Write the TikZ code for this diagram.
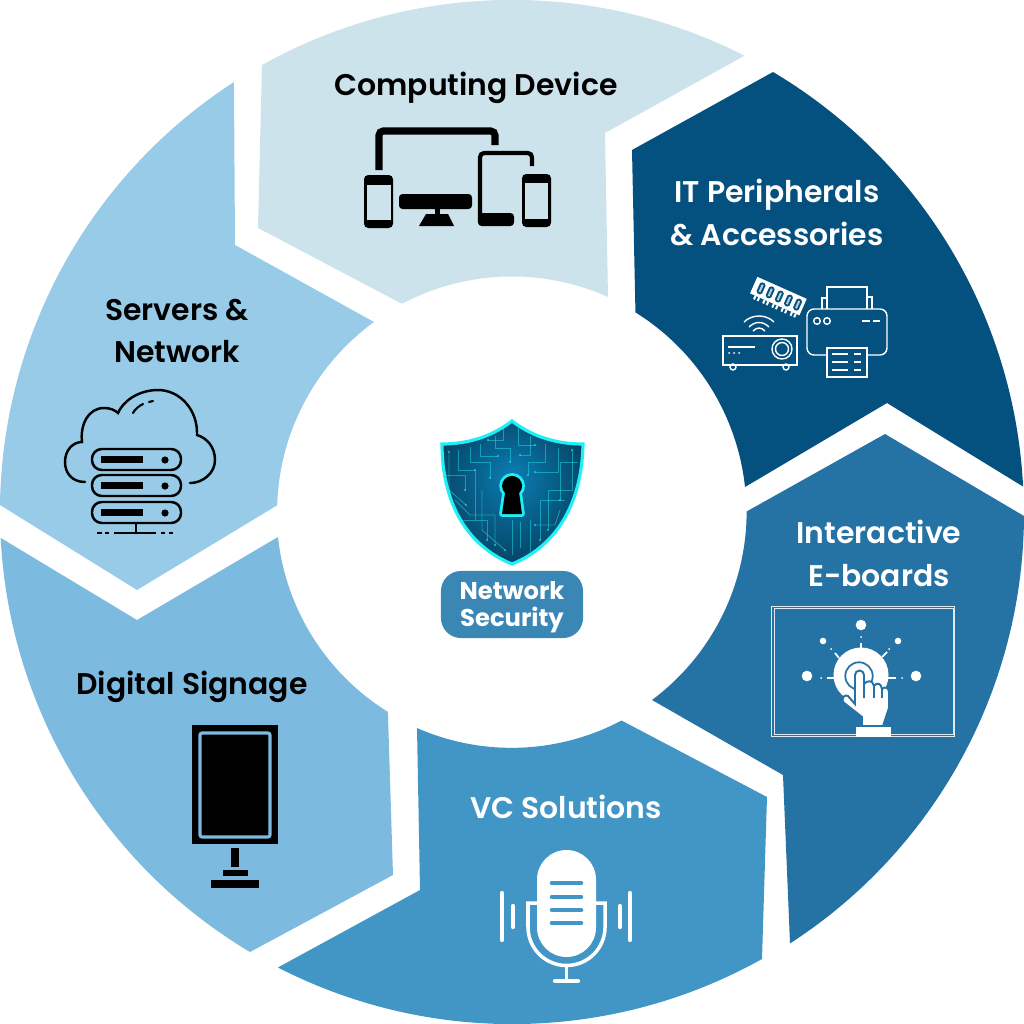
\documentclass[tikz,border=0pt]{standalone}
\usepackage{fontspec}
\usepackage{tikz}
\usetikzlibrary{positioning}
\newfontfamily\lblfont{Poppins SemiBold}
\newfontfamily\badgefont{Poppins Bold}
\definecolor{deviceblue}{HTML}{CDE3EC}
\definecolor{periphblue}{HTML}{04517F}
\definecolor{eboardblue}{HTML}{2572A4}
\definecolor{vcblue}{HTML}{4296C6}
\definecolor{signageblue}{HTML}{7DBAE0}
\definecolor{serverblue}{HTML}{97CBE8}
\definecolor{pillblue}{HTML}{3A86B5}
\definecolor{glowcyan}{HTML}{1FF0F5}
\definecolor{shieldmid}{HTML}{0A7FB5}
\definecolor{shieldedge}{HTML}{04233A}
\pgfdeclareradialshading{shieldglow}{\pgfpoint{0bp}{6bp}}{
  color(0bp)=(shieldmid); color(12bp)=(shieldmid!70!shieldedge); color(28bp)=(shieldedge!65!shieldmid); color(50bp)=(shieldedge)}
\tikzset{
  seglabel/.style={font=\lblfont\fontsize{8.5}{12.2}\selectfont,align=center,inner sep=0pt},
  thinline/.style={line width=0.4pt,white},
  trace/.style={line width=0.25pt,glowcyan,opacity=0.45},
}
\begin{document}
\begin{tikzpicture}[x=0.01cm,y=-0.01cm]
    \useasboundingbox (0,0) rectangle (1024,1024);

    % ring segments
    \fill[deviceblue](262,65) arc[start angle=119.2,end angle=63,radius=5.12cm] -- (605,133) -- (608,297) arc[start angle=65.9,end angle=117.9,radius=2.35cm] -- (258,228) -- cycle;
    \fill[periphblue](773,72) arc[start angle=59.3,end angle=2.9,radius=5.12cm] -- (887,403) -- (745,487) arc[start angle=6.1,end angle=58.1,radius=2.35cm] -- (632,150) -- cycle;
    \fill[eboardblue](1024,516) arc[start angle=-0.3,end angle=-57.1,radius=5.12cm] -- (783,775) -- (652,700) arc[start angle=-53.3,end angle=0,radius=2.35cm] -- (885,434) -- cycle;
    \fill[vcblue](762,959) arc[start angle=-60.8,end angle=-117.2,radius=5.12cm] -- (420,890) -- (417,728) arc[start angle=-113.7,end angle=-62.1,radius=2.35cm] -- (767,797) -- cycle;
    \fill[signageblue](250,952) arc[start angle=239.2,end angle=182.9,radius=5.12cm] -- (137,620) -- (278,537) arc[start angle=186.1,end angle=238.2,radius=2.35cm] -- (393,875) -- cycle;
    \fill[serverblue](0,505) arc[start angle=179.2,end angle=122.9,radius=5.12cm] -- (235,245) -- (374,322) arc[start angle=126,end angle=178.3,radius=2.35cm] -- (137,590) -- cycle;

    % labels
    \node[seglabel] (devicelabel) at (476,88) {Computing Device};
    \node[seglabel,white] (periphlabel) at (777,212.5) {IT Peripherals\\\& Accessories};
    \node[seglabel,white] (eboardlabel) at (879,553.5) {Interactive\\E-boards};
    \node[seglabel,white] (vclabel) at (566,807) {VC Solutions};
    \node[seglabel] (signagelabel) at (192,687) {Digital Signage};
    \node[seglabel] (serverlabel) at (177,331) {Servers \&\\Network};

    % computing device icon
    \draw[line width=2pt,rounded corners=1.2pt](379,170)--(379,131)--(495,131)--(495,145);
    \draw[line width=1.2pt,rounded corners=1.2pt](532,166)--(532,153)--(480,153)--(480,222);
    \fill[rounded corners=1pt](478,213) rectangle (514,226);
    \fill[rounded corners=1pt](399,194) rectangle (472,209);
    \fill(435,209) rectangle (440,215);
    \fill(426,214)--(448,214)--(454,226)--(419,226)--cycle;
    \fill[rounded corners=1.2pt](364,175) rectangle (393,228);
    \fill[deviceblue](367,185) rectangle (391,220);
    \fill[rounded corners=1.2pt](522,174) rectangle (551,227);
    \fill[deviceblue](525,183) rectangle (548,219);

    % printer
    \draw[thinline](827,309)--(827,287)--(867,287)--(867,309);
    \draw[thinline](827,298)--(822,298)--(822,309);
    \draw[thinline](867,297)--(872,297)--(872,309);
    \draw[thinline,fill=periphblue,rounded corners=2pt](807,309) rectangle (887,355);
    \draw[thinline,fill=periphblue](827,348) rectangle (867,377);
    \foreach \y in {354,362,370}{
        \draw[thinline](832,\y)--(848,\y);
        \draw[thinline](854,\y)--(861,\y);
    }
    \draw[thinline](817,321) circle[radius=0.033cm];
    \draw[thinline](827,321) circle[radius=0.033cm];
    \draw[thinline](862,321)--(870,321);
    \draw[thinline](873,321)--(880,321);
    % projector
    \draw[thinline](723,336) rectangle (797,365);
    \draw[thinline](782,349) circle[radius=0.1cm];
    \draw[thinline](782,349) circle[radius=0.065cm];
    \draw[thinline](728,347)--(755,347);
    \foreach \x in {729,734,739}{
        \fill[white](\x,353) circle[radius=0.01cm];
    }
    \draw[thinline](733,367) circle[radius=0.03cm];
    \draw[thinline](786,367) circle[radius=0.03cm];
    \draw[thinline](744,322) .. controls (752,314) and (766,314) .. (774,322);
    \draw[thinline](749,327) .. controls (755,321) and (763,321) .. (769,327);
    \draw[thinline](753,331) .. controls (757,327) and (761,327) .. (765,331);
    % memory stick
    \begin{scope}[shift={(778,297)},rotate=-24]
        \fill[white](-27,-10) rectangle (27,8);
        \foreach \x in {-19,-9,1,11,21}{
            \fill[periphblue,rounded corners=0.5pt](\x-3,-7) rectangle (\x+3,5);
            \fill[white!70!periphblue](\x-1,-5) rectangle (\x+1,3);
            \fill[white](\x-3,8) rectangle (\x-1,12);
            \fill[white](\x+1,8) rectangle (\x+3,12);
        }
    \end{scope}

    % cloud and servers
    \draw[line width=0.7pt,line cap=round](85,482) .. controls (72,482) and (65,473) .. (65,462) .. controls (65,450) and (73,442) .. (82,442)
        .. controls (80,425) and (88,408) .. (104,408) .. controls (110,408) and (115,410) .. (118,413)
        .. controls (125,398) and (142,390) .. (158,390) .. controls (180,390) and (198,410) .. (197,435)
        .. controls (207,438) and (215,447) .. (215,460) .. controls (215,473) and (203,483) .. (190,483);
    \draw[line width=0.6pt,line cap=round](133,413) .. controls (135,409) and (139,406) .. (143,404);
    \draw[line width=0.6pt,line cap=round](149,402)--(153,401);
    \foreach \y in {449,475,502}{
        \draw[line width=0.7pt,rounded corners=2.8pt](92,\y) rectangle (181,\y+21);
        \fill(101,\y+7) rectangle (143,\y+14);
        \fill(165,\y+11) circle[radius=0.036cm];
    }
    \draw[line width=0.6pt](136,523)--(136,533);
    \draw[line width=0.6pt](114,533)--(156,533);
    \draw[line width=0.6pt](97,533)--(102,533);
    \draw[line width=0.6pt](105,533)--(109,533);
    \draw[line width=0.6pt](161,533)--(165,533);
    \draw[line width=0.6pt](169,533)--(173,533);

    % signage icon
    \fill(192,725) rectangle (278,844);
    \draw[line width=0.9pt,signageblue,rounded corners=0.6pt](200,733) rectangle (270,837);
    \fill(231,848) rectangle (239,867);
    \fill(223,870) rectangle (248,876);
    \fill(211,880) rectangle (259,888);

    % microphone
    \fill[white,rounded corners=0.295cm](537,850) rectangle (596,957);
    \foreach \y in {883,897,910,923}{
        \draw[line width=1.3pt,vcblue,line cap=round](552,\y)--(581,\y);
    }
    \draw[line width=1pt,white](537,903)-|(528,927) arc[start angle=180,end angle=360,radius=0.385cm] |-(596,903);
    \draw[line width=1pt,white](566.5,965)--(566.5,980);
    \draw[line width=1.2pt,white,line cap=round](555,981)--(578,981);
    \foreach \x/\a/\b in {502/893/940,513/906/927,620/906/927,630/893/940}{
        \draw[line width=1.2pt,white,line cap=round](\x,\a)--(\x,\b);
    }

    % e-board icon
    \draw[line width=0.25pt,white!85!eboardblue](771,606) rectangle (954,736);
    \draw[line width=0.25pt,white!85!eboardblue](774,608) rectangle (953,734);
    \fill[white](861,675) circle[radius=0.275cm];
    \draw[line width=0.5pt,eboardblue](859,676) circle[radius=0.137cm];
    \foreach \x/\y/\r in {861/625/0.053,807/676/0.053,916/676/0.053,823/641/0.033,898/641/0.033,861/637/0.01,821/678/0.01,902/678/0.01,831/649/0.01,889/649/0.01}{
        \fill[white](\x,\y) circle[radius=\r cm];
    }
    \draw[line width=0.5pt,white](861,643)--(861,648);
    \draw[line width=0.5pt,white](827,678)--(834,678);
    \draw[line width=0.5pt,white](888,678)--(896,678);
    \draw[line width=0.5pt,white](835,653)--(839,658);
    \draw[line width=0.5pt,white](887,652)--(882,657);
    \draw[line width=0.55pt,eboardblue,fill=white](855,704)--(855,675) arc[start angle=180,end angle=0,radius=0.045cm]--(864,684) .. controls (867,680) and (873,680) .. (874,686) .. controls (877,682) and (881,683) .. (882,689) .. controls (885,686) and (889,688) .. (889,692)--(889,708)--(883,726)--(862,726)--(862,717)--(843,702) .. controls (841,698) and (845,694) .. (848,696)--cycle;
    \draw[line width=0.55pt,eboardblue](864,684)--(864,698);
    \draw[line width=0.55pt,eboardblue](874,686)--(874,698);
    \draw[line width=0.55pt,eboardblue](882,689)--(882,698);
    \fill[white](856,727) rectangle (891,737);

    % shield
    \shade[shading=shieldglow](512,421) .. controls (490,438) and (465,444) .. (442,444) .. controls (442,500) and (465,545) .. (512,564) .. controls (559,545) and (582,500) .. (583,444) .. controls (559,444) and (534,438) .. (512,421) -- cycle;
    \draw[trace](449,452)--(449,490)--(466,505);
    \draw[trace](458,450)--(458,470)--(475,470)--(475,520);
    \draw[trace](470,447)--(470,462)--(490,462)--(490,478);
    \draw[trace](480,444)--(480,456)--(498,456);
    \draw[trace](495,436)--(495,448)--(510,448)--(510,462);
    \draw[trace](503,428)--(503,440)--(488,440);
    \draw[trace](518,428)--(518,445)--(535,445);
    \draw[trace](530,436)--(530,455)--(520,455);
    \draw[trace](545,444)--(545,462)--(528,462)--(528,475);
    \draw[trace](558,448)--(558,472)--(535,472);
    \draw[trace](572,450)--(572,490)--(548,490)--(548,530);
    \draw[trace](565,500)--(540,500)--(540,540);
    \draw[trace](455,500)--(470,515)--(495,515)--(495,545);
    \draw[trace](482,490)--(482,530)--(505,550);
    \draw[trace](446,475)--(465,475)--(465,490);
    \draw[trace](462,520)--(487,520)--(487,540);
    \draw[trace](512,520)--(512,555);
    \draw[trace](520,522)--(520,548);
    \draw[trace](530,520)--(530,552);
    \draw[trace](560,510)--(555,525)--(535,525);
    \draw[trace](578,462)--(560,462)--(560,500);
    \foreach \x/\y in {466/505,475/470,490/478,498/456,488/440,510/462,535/445,520/455,528/475,535/472,548/530,540/540,495/545,505/550,465/490,487/540,535/525,560/500,449/452,572/450}{
        \fill[glowcyan,opacity=0.7](\x,\y) circle[radius=0.012cm];
    }
    \draw[line width=0.9pt,glowcyan](512,421) .. controls (490,438) and (465,444) .. (442,444) .. controls (442,500) and (465,545) .. (512,564) .. controls (559,545) and (582,500) .. (583,444) .. controls (559,444) and (534,438) .. (512,421) -- cycle;
    \draw[line width=1.6pt,glowcyan,line join=round](505,493) arc[start angle=225,end angle=-45,radius=0.1cm]--(522,514)--(502,514)--cycle;
    \fill[black](505,493) arc[start angle=225,end angle=-45,radius=0.1cm]--(522,514)--(502,514)--cycle;

    % centre badge
    \node[fill=pillblue,rounded corners=0.2cm,minimum width=1.42cm,minimum height=0.67cm,inner sep=0pt] (securitypill) at (512,604.5) {};
    \node[inner sep=0pt,text=white,align=center,font=\badgefont\fontsize{6.9}{7.7}\selectfont] (securitylabel) at (512,607) {Network\\Security};
\end{tikzpicture}
\end{document}
